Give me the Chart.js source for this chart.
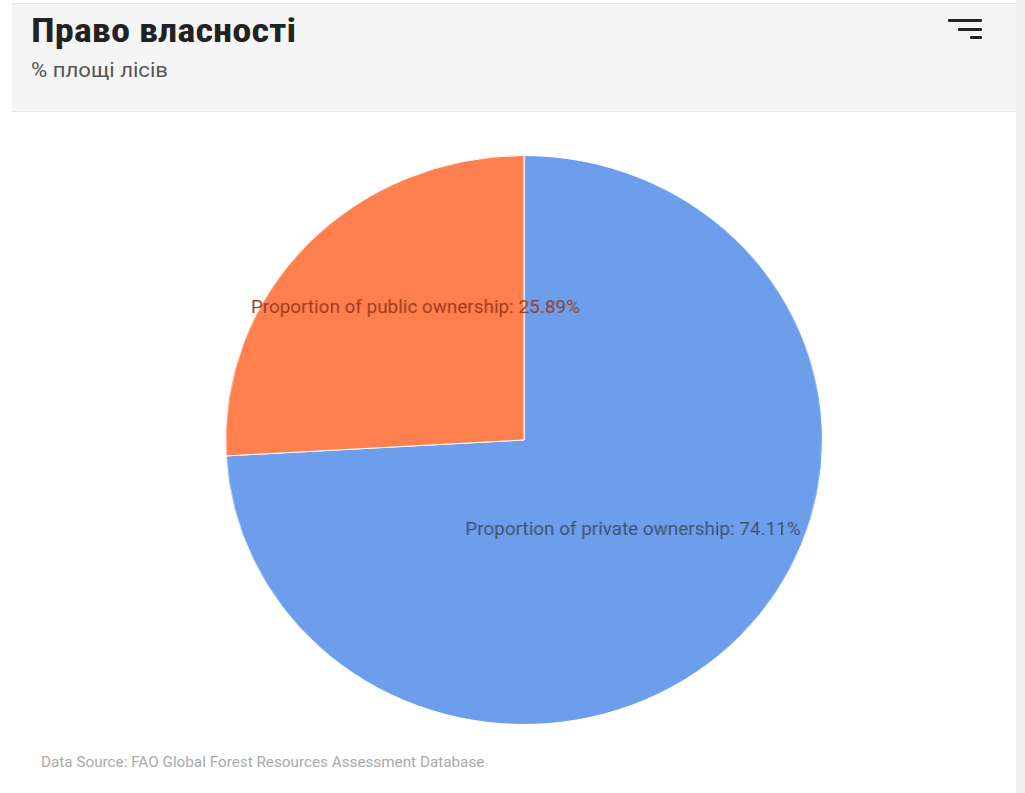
<!DOCTYPE html>
<html>
<head>
<meta charset="utf-8">
<script src="https://cdn.jsdelivr.net/npm/chart.js@4"></script>
<style>
  body { margin: 0; background: #fff; width: 1025px; height: 793px; overflow: hidden; position: relative; font-family: Roboto, "Noto Sans", sans-serif; }
  .header { position: absolute; left: 12px; top: 3px; width: 1004px; height: 109px; background: #f5f5f5; border-top: 1px solid #e2e2e2; border-bottom: 1px solid #e6e6e6; box-sizing: border-box; }
  .title { position: absolute; left: 19px; top: 7px; font-family: "Liberation Sans Narrow", "Roboto Condensed", Roboto, sans-serif; font-weight: bold; font-size: 33px; color: #222; transform: scaleX(1.165); transform-origin: left top; }
  .subtitle { position: absolute; left: 19px; top: 54px; font-family: "Liberation Sans Narrow", Roboto, sans-serif; font-size: 21px; color: #555; transform: scaleX(1.055); transform-origin: left top; }
  .menu { position: absolute; top: 0; left: 0; }
  .menu div { position: absolute; height: 3px; background: #222; border-radius: 1px; }
  .strip { position: absolute; left: 1016px; top: 0; width: 9px; height: 793px; background: #f0f0f0; }
  .source { position: absolute; left: 41px; top: 754px; font-size: 14px; color: #aaa; transform: scaleX(1.09); transform-origin: left top; }
  .chart-box { position: absolute; left: 239px; top: 155px; width: 570px; height: 570px; transform: scaleX(1.049); transform-origin: center center; }
</style>
</head>
<body>
<div class="header">
  <div class="title">Право власності</div>
  <div class="subtitle">% площі лісів</div>
  <div class="menu">
    <div style="left:936px; top:15px; width:34px;"></div>
    <div style="left:946px; top:24px; width:24px;"></div>
    <div style="left:958px; top:32px; width:12px;"></div>
  </div>
</div>
<div class="strip"></div>
<div class="chart-box"><canvas id="pie"></canvas></div>
<div class="source">Data Source: FAO Global Forest Resources Assessment Database</div>
<script>
const labels = ['Proportion of private ownership', 'Proportion of public ownership'];
const values = [74.11, 25.89];
const sliceColors = ['#6d9eeb', '#ff7f4f'];
const labelColors = ['#3f5268', '#9a3a1e'];

// where each slice label sits: fraction of radius, angle nudge in degrees
const labelRadius = [0.485, 0.589];
const labelAngleShift = [-2.2, 8.4];

const sliceLabels = {
    id: 'sliceLabels',
    afterDatasetsDraw(chart) {
        const ctx = chart.ctx;
        const meta = chart.getDatasetMeta(0);
        ctx.save();
        ctx.font = '18px Roboto, sans-serif';
        ctx.textAlign = 'center';
        ctx.textBaseline = 'middle';
        meta.data.forEach((arc, i) => {
            const mid = (arc.startAngle + arc.endAngle) / 2 + labelAngleShift[i] * Math.PI / 180;
            const r = arc.outerRadius * labelRadius[i];
            const x = arc.x + Math.cos(mid) * r;
            const y = arc.y + Math.sin(mid) * r;
            ctx.fillStyle = labelColors[i];
            ctx.fillText(labels[i] + ': ' + values[i].toFixed(2) + '%', x, y);
        });
        ctx.restore();
    }
};

new Chart(document.getElementById('pie'), {
    type: 'pie',
    data: {
        labels: labels,
        datasets: [{
            data: values,
            backgroundColor: sliceColors,
            borderColor: '#ffffff',
            borderWidth: 1
        }]
    },
    options: {
        responsive: true,
        maintainAspectRatio: false,
        animation: false,
        layout: { padding: 0 },
        plugins: {
            legend: { display: false },
            tooltip: { enabled: false }
        }
    },
    plugins: [sliceLabels]
});
</script>
</body>
</html>
